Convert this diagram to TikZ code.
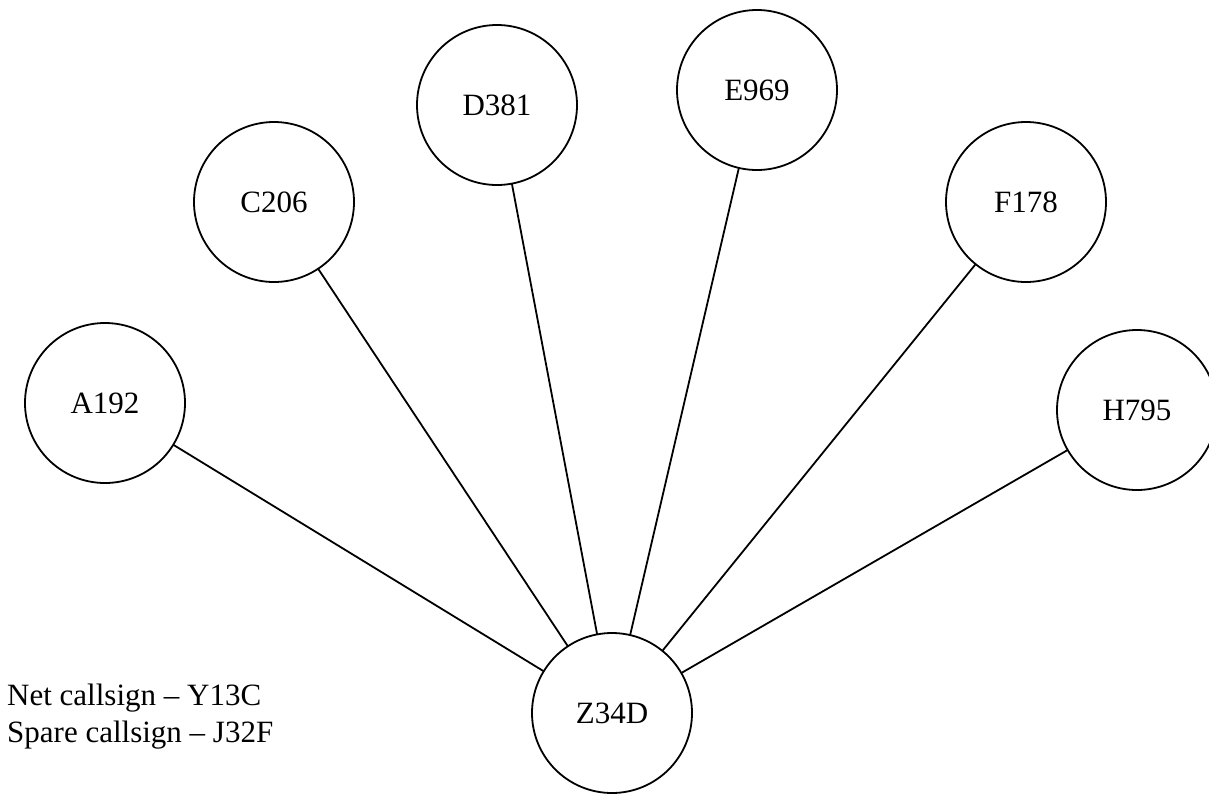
\documentclass[tikz,border=0pt]{standalone}
\usepackage{fontspec}
\setmainfont{Liberation Serif}
\tikzset{
  station/.style={draw=black, line width=1.8pt, circle, minimum size=160pt, inner sep=0pt, outer sep=0pt, font=\fontsize{31}{37}\selectfont},
  link/.style={draw=black, line width=1.8pt},
  legend/.style={anchor=base west, inner sep=0pt, font=\fontsize{31}{37}\selectfont}
}
\begin{document}
\begin{tikzpicture}[x=1pt,y=-1pt]
\useasboundingbox (0,0) rectangle (1209,793);
\clip (0,0) rectangle (1209,793);
\fill[white] (0,0) rectangle (1209,793);
\node[station] (A) at (105,403) {A192};
\node[station] (C) at (274,202) {C206};
\node[station] (D) at (497,105) {D381};
\node[station] (E) at (757,90) {E969};
\node[station] (F) at (1026,202) {F178};
\node[station] (H) at (1137,410) {H795};
\node[station] (Z) at (612,713) {Z34D};
\foreach \n in {A,C,D,E,F,H} \draw[link] (\n) -- (Z);
\node[legend] (net) at (7,705) {Net callsign – Y13C};
\node[legend] (spare) at (7,742) {Spare callsign – J32F};
\end{tikzpicture}
\end{document}
